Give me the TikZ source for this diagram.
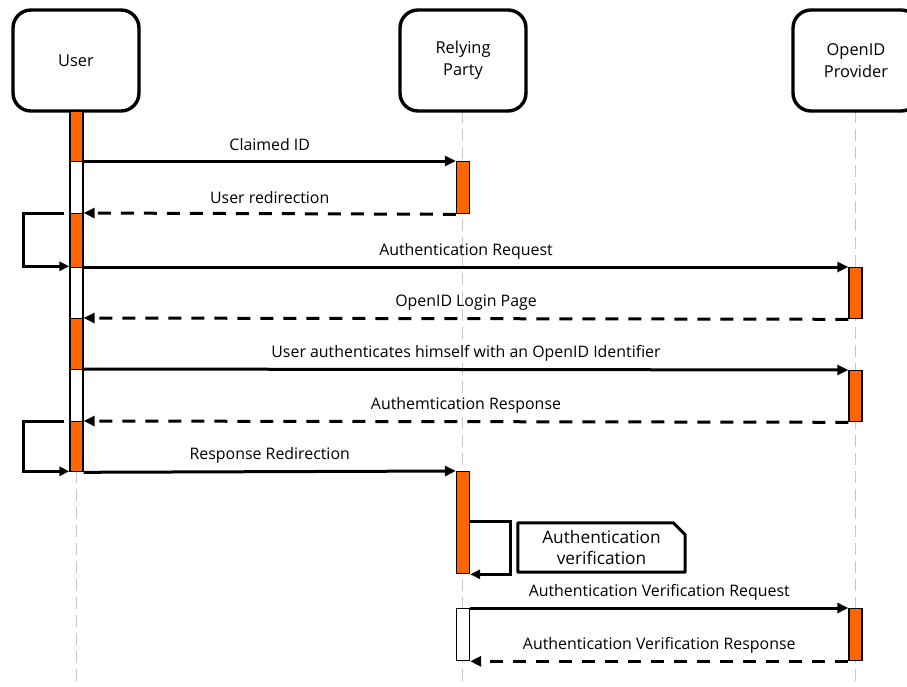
\documentclass[tikz,border=0pt]{standalone}
\usepackage{fontspec}
\setmainfont{Open Sans}
\usetikzlibrary{arrows.meta}
\definecolor{actorange}{HTML}{FF6600}
\definecolor{lifegray}{HTML}{C8C8C8}
\begin{document}
\begin{tikzpicture}[x=1pt,y=-1pt,
  actor/.style={draw, line width=3.4pt, rounded corners=18pt, minimum width=126pt,
    minimum height=101pt, align=center, font=\fontsize{16.4}{22}\selectfont, fill=white},
  lifeline/.style={draw=lifegray, line width=1.4pt, dash pattern=on 12pt off 6pt},
  bar/.style={draw, line width=1.3pt, minimum width=13pt, inner sep=0pt, anchor=north},
  busy/.style={bar, fill=actorange},
  idle/.style={bar, fill=white},
  msg/.style={line width=3pt, -{Triangle[length=11pt,width=10pt]}},
  reply/.style={msg, dash pattern=on 13pt off 10pt},
  selfmsg/.style={line width=3pt, -{Triangle[length=10pt,width=9pt]}},
  lbl/.style={font=\fontsize{15.9}{19}\selectfont, yshift=16pt},
]
\useasboundingbox (0,0) rectangle (907,686);

% lifelines
\draw[lifeline] (76.5,111) -- (76.5,686);
\draw[lifeline] (462.5,111) -- (462.5,686);
\draw[lifeline] (855.5,111) -- (855.5,686);

% participants
\node[actor] (user) at (76,60.5) {User};
\node[actor] (rp) at (463,60.5) {Relying\\Party};
\node[actor] (op) at (856,60.5) {OpenID\\Provider};

% activation bars of the user
\node[busy, minimum height=50pt] (u1) at (76.5,111) {};
\node[idle, minimum height=52pt] (u2) at (76.5,161) {};
\node[busy, minimum height=54pt] (u3) at (76.5,213) {};
\node[idle, minimum height=51pt] (u4) at (76.5,267) {};
\node[busy, minimum height=51pt] (u5) at (76.5,318) {};
\node[idle, minimum height=52pt] (u6) at (76.5,369) {};
\node[busy, minimum height=50pt] (u7) at (76.5,421) {};

% activation bars of the relying party
\node[busy, minimum height=52pt] (r1) at (463,161) {};
\node[busy, minimum height=102pt] (r2) at (463,471) {};
\node[idle, minimum height=52pt] (r3) at (463,608) {};

% activation bars of the provider
\node[busy, minimum height=51pt] (o1) at (855.5,267) {};
\node[busy, minimum height=51pt] (o2) at (855.5,370) {};
\node[busy, minimum height=52pt] (o3) at (855.5,608) {};

% messages
\draw[msg] (u2.north east) -- (r1.north west) node[midway, lbl] {Claimed ID};
\draw[reply] (r1.south west) -- (u3.north east) node[midway, lbl] {User redirection};
\draw[selfmsg] ([xshift=-5pt]u3.north west) -- ++(-41,0) |- ([yshift=2pt]u3.south west);
\draw[msg] (u4.north east) -- (o1.north west) node[midway, lbl] {Authentication Request};
\draw[reply] (o1.south west) -- (u5.north east) node[midway, lbl] {OpenID Login Page};
\draw[msg] (u6.north east) -- (o2.north west) node[midway, lbl] {User authenticates himself with an OpenID Identifier};
\draw[reply] (o2.south west) -- (u7.north east) node[midway, lbl] {Authemtication Response};
\draw[selfmsg] ([xshift=-5pt]u7.north west) -- ++(-41,0) |- ([yshift=1pt]u7.south west);
\draw[msg] (u7.south east) -- (r2.north west) node[midway, lbl] {Response Redirection};
\draw[selfmsg] ([yshift=-50pt]r2.north east) -- ++(40,0) |- (r2.south east);

% note beside the relying party
\node[font=\fontsize{17.3}{21}\selectfont, align=center, minimum width=167pt, minimum height=49pt, inner sep=0pt]
  (note) at (601.5,547.5) {Authentication\\verification};
\draw[line width=3pt, line join=round]
  (note.north west) -- ([xshift=-12pt]note.north east) -- ([yshift=-12pt]note.north east)
  -- (note.south east) -- (note.south west) -- cycle;

\draw[msg] (r3.north east) -- (o3.north west) node[midway, lbl] {Authentication Verification Request};
\draw[reply] (o3.south west) -- (r3.south east) node[midway, lbl] {Authentication Verification Response};
\end{tikzpicture}
\end{document}
